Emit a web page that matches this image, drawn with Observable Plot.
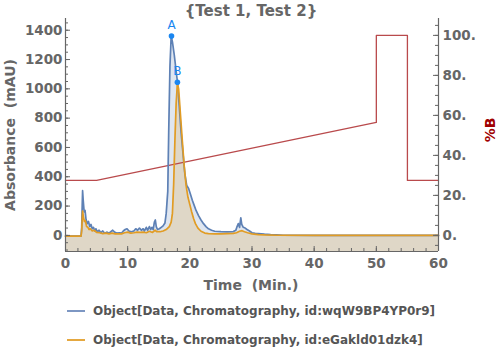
<!DOCTYPE html>
<html><head><meta charset="utf-8">
<script src="https://cdn.jsdelivr.net/npm/d3@7"></script>
<script src="https://cdn.jsdelivr.net/npm/@observablehq/plot@0.6"></script>
<style>
body{margin:0;background:#fff;font-family:"DejaVu Sans",sans-serif;}
#wrap{position:relative;width:500px;height:356px;overflow:hidden}
.lbl{position:absolute;font-weight:bold;color:#666;white-space:pre;line-height:1}
#chart{position:absolute;left:0;top:0}
.leg{position:absolute;left:67px;font-weight:bold;font-size:12px;color:#555;white-space:pre;line-height:1}
.sw{position:absolute;left:67px;width:18px;height:2px}
</style></head><body><div id="wrap">
<div id="chart"></div>
<div class="lbl" id="title" style="left:251px;top:4px;font-size:15px;transform:translateX(-50%)">{Test 1, Test 2}</div>
<div class="lbl" style="left:10px;top:135px;font-size:14px;transform:translate(-50%,-50%) rotate(-90deg)">Absorbance  (mAU)</div>
<div class="lbl" style="left:251px;top:285px;font-size:14px;transform:translate(-50%,-50%)">Time  (Min.)</div>
<div class="lbl" style="left:490px;top:130px;font-size:14px;color:#a00000;transform:translate(-50%,-50%) rotate(-90deg)">%B</div>
<div class="sw" style="top:310px;background:#7d97c3"></div>
<div class="leg" style="top:305px;left:93px">Object[Data, Chromatography, id:wqW9BP4YP0r9]</div>
<div class="sw" style="top:339px;background:#e5a840"></div>
<div class="leg" style="top:334px;left:93px">Object[Data, Chromatography, id:eGakld01dzk4]</div>
</div>
<script>
// ---- data ----
const blueT = [0,2.5,2.6,2.75,2.85,3.0,3.15,3.3,3.5,3.7,3.9,4.1,4.3,4.5,4.7,4.9,5.1,5.4,5.7,6.0,6.3,6.7,7.0,7.3,7.6,7.9,8.3,8.7,9.0,9.3,9.6,9.9,10.2,10.6,11.0,11.3,11.6,11.9,12.2,12.5,12.7,13.0,13.2,13.5,13.7,13.9,14.1,14.3,14.45,14.6,14.8,15.1,15.4,15.7,16.0,16.2,16.45,16.6,16.8,17.0,17.2,17.5,17.8,18.0,18.3,18.6,18.9,19.2,19.5,19.8,20.1,20.4,20.7,21.0,21.4,21.8,22.2,22.6,23.0,23.5,24.0,25.0,26.0,27.0,27.4,27.6,27.8,28.0,28.2,28.35,28.6,28.9,29.2,29.6,30.0,30.5,31.0,32.0,33.0,34.0,35.0,40,50,60];
const blueV = [-5,-5,50,305,240,160,170,110,80,95,60,75,45,55,30,45,25,35,18,30,15,22,15,25,35,22,15,18,15,30,40,45,30,25,30,45,35,50,35,45,30,55,35,60,40,55,40,90,105,60,40,45,55,65,85,150,300,700,1150,1360,1320,1230,1120,1050,880,700,560,420,340,320,280,240,205,170,135,105,80,60,45,35,28,25,24,26,35,60,80,55,120,75,55,50,40,30,18,14,12,8,5,3,1,0,0,0];
const orangeT = [0,2.5,2.6,2.75,2.9,3.05,3.2,3.4,3.6,3.8,4.0,4.3,4.6,5.0,5.5,6.0,6.5,7.0,7.5,8.0,9.0,9.5,10.0,10.5,11.0,11.5,12.0,12.5,13.0,13.5,14.0,14.4,14.7,15.2,15.7,16.2,16.7,17.0,17.2,17.4,17.6,17.8,18.0,18.2,18.5,18.8,19.1,19.4,19.7,20.0,20.3,20.6,20.9,21.3,21.8,22.4,23.0,24,25,26,27,27.5,28.0,28.4,28.8,29.3,30,31,32,34,40,60];
const orangeV = [-5,-5,30,165,120,95,100,60,55,40,45,30,35,20,18,12,15,10,15,10,10,18,22,15,18,22,20,22,18,28,20,35,25,25,30,40,60,90,150,350,650,900,1040,1000,820,640,470,340,260,210,160,115,80,50,28,16,12,10,10,12,14,18,28,32,25,18,10,5,3,1,0,0];
const gradT = [0,5,50,50,55,55,60];
const gradB = [27.5,27.5,56.5,100,100,27.5,27.5];
const peakT = [17.05,18.0];
const peakV = [1360,1045];
const peakLabels = ["A","B"];
const xTicks = [0,10,20,30,40,50,60];
const xMinor = d3.range(0,61,2);
const yTicks = [0,200,400,600,800,1000,1200,1400];
const yMinor = d3.range(-100,1481,50);
const bTicks = [0,20,40,60,80,100];
const bMinor = d3.range(-5,106,5);

const W = 500, H = 300, mL = 65, mR = 62, mT = 18, mB = 49;
const xDomain = [0,60];
const yDomain = [-110,1480];
const bDomain = [-8,108.5];
const k = (yDomain[1]-yDomain[0])/(bDomain[1]-bDomain[0]); // %B -> y units
// pixel -> data unit conversions for inward tick lengths
const xu = (xDomain[1]-xDomain[0])/(W-mL-mR);
const yu = (yDomain[1]-yDomain[0])/(H-mT-mB);
const blue = blueT.map((t,i)=>({t, v:blueV[i]}));
const orange = orangeT.map((t,i)=>({t, v:orangeV[i]}));
const grad = gradT.map((t,i)=>({t, v:gradB[i]*k}));
const peaks = peakT.map((t,i)=>({t, v:peakV[i], l:peakLabels[i]}));
const gray = "#666";
const tk = (len)=>({stroke:gray, strokeWidth:1});

const chart = Plot.plot({
  width:W, height:H,
  marginLeft:mL, marginRight:mR, marginTop:mT, marginBottom:mB,
  style:{fontFamily:"DejaVu Sans", fontWeight:"bold", fontSize:"13.5px", color:gray, background:"transparent"},
  x:{domain:xDomain},
  y:{domain:yDomain},
  marks:[
    Plot.areaY(blue,{x:"t", y1:yDomain[0], y2:"v", fill:"#5E81B5", fillOpacity:0.2}),
    Plot.areaY(orange,{x:"t", y1:yDomain[0], y2:"v", fill:"#E19C24", fillOpacity:0.2}),
    Plot.line(grad,{x:"t", y:"v", stroke:"#b94a4c", strokeWidth:1.3}),
    Plot.line(blue,{x:"t", y:"v", stroke:"#5E81B5", strokeWidth:1.7}),
    Plot.line(orange,{x:"t", y:"v", stroke:"#E19C24", strokeWidth:1.7}),
    Plot.dot(peaks,{x:"t", y:"v", r:2.8, fill:"#1a86f0"}),
    Plot.text(peaks,{x:"t", y:"v", text:"l", dy:-11, fill:"#1a86f0", fontWeight:"normal", fontSize:12}),
    // tick labels
    Plot.axisX({ticks:xTicks, tickSize:0, tickPadding:7, tickFormat:d=>String(d), label:null}),
    Plot.axisY({ticks:yTicks, tickSize:0, tickPadding:3, tickFormat:d=>String(d), label:null}),
    Plot.axisY({anchor:"right", ticks:bTicks.map(b=>b*k), tickFormat:d=>Math.round(d/k)+".", tickSize:0, tickPadding:4, label:null}),
    // inward tick marks
    Plot.ruleX(xTicks,{x:d=>d, y1:yDomain[0], y2:yDomain[0]+5*yu, ...tk()}),
    Plot.ruleX(xMinor,{x:d=>d, y1:yDomain[0], y2:yDomain[0]+3*yu, ...tk()}),
    Plot.ruleY(yTicks,{y:d=>d, x1:xDomain[0], x2:xDomain[0]+5*xu, ...tk()}),
    Plot.ruleY(yMinor,{y:d=>d, x1:xDomain[0], x2:xDomain[0]+3*xu, ...tk()}),
    Plot.ruleY(bTicks,{y:d=>d*k, x1:xDomain[1], x2:xDomain[1]-5*xu, ...tk()}),
    Plot.ruleY(bMinor,{y:d=>d*k, x1:xDomain[1], x2:xDomain[1]-3*xu, ...tk()}),
    // frame (left, bottom, right)
    Plot.ruleY([yDomain[0]],{stroke:gray, strokeWidth:1.2}),
    Plot.ruleX(xDomain,{stroke:gray, strokeWidth:1.2})
  ]
});
document.getElementById("chart").appendChild(chart);
</script>
</body></html>
